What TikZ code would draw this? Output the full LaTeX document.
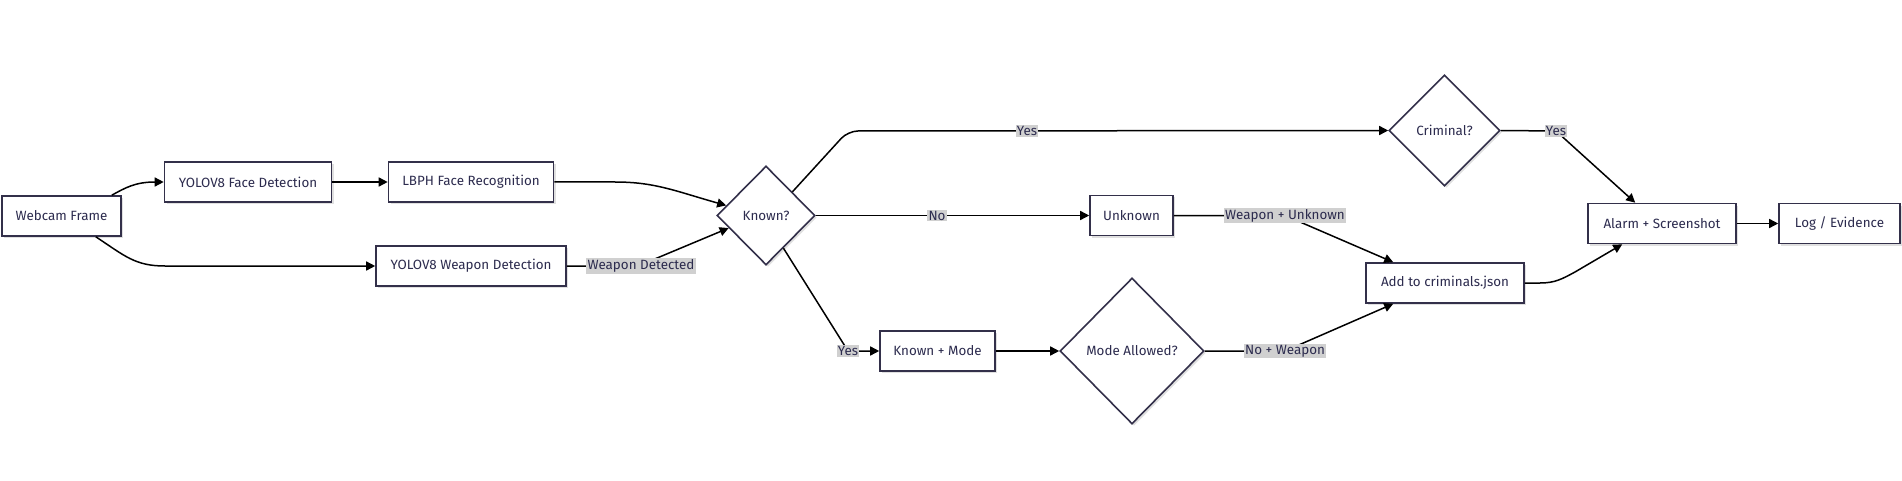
\documentclass[tikz,border=0pt]{standalone}
\usepackage{fontspec}
\setmainfont{Fira Sans}
\usetikzlibrary{shapes.geometric,arrows.meta,calc,shadows}
\definecolor{strokec}{HTML}{33304A}
\definecolor{textc}{HTML}{2C2B4E}
\definecolor{labelbg}{HTML}{D0D0D0}
\tikzset{
  box/.style={draw=strokec, line width=1.6pt, fill=white, text=textc, font=\fontsize{13.4}{15}\selectfont,
    minimum height=40pt, inner sep=0pt,
    drop shadow={shadow xshift=2pt, shadow yshift=-2pt, opacity=0.12, fill=black}},
  dia/.style={shape=diamond, draw=strokec, line width=1.6pt, fill=white, text=textc, font=\fontsize{13.4}{15}\selectfont,
    inner sep=0pt,
    drop shadow={shadow xshift=2pt, shadow yshift=-2pt, opacity=0.12, fill=black}},
  conn/.style={draw=black, line width=1.5pt, -{Triangle[length=9pt,width=9pt]}},
  elabel/.style={fill=labelbg, text=textc, font=\fontsize{13.4}{15}\selectfont, inner sep=1.2pt, anchor=center}
}
\begin{document}
\begin{tikzpicture}[x=1pt,y=-1pt]
\useasboundingbox (0,0) rectangle (1902,481);
% nodes
\node[box, minimum width=119pt] (web) at (61.5,216) {Webcam Frame};
\node[box, minimum width=167pt] (fd) at (248,182) {YOLOV8 Face Detection};
\node[box, minimum width=165pt] (lbph) at (471,182) {LBPH Face Recognition};
\node[box, minimum width=190pt] (wd) at (471,266) {YOLOV8 Weapon Detection};
\node[dia, minimum width=98pt, minimum height=99pt] (known) at (766,215.5) {Known?};
\node[dia, minimum width=111pt, minimum height=111pt] (crim) at (1444.5,130.5) {Criminal?};
\node[box, minimum width=83pt] (unk) at (1131.5,215.5) {Unknown};
\node[box, minimum width=158pt] (add) at (1445,283) {Add to criminals.json};
\node[box, minimum width=148pt] (alarm) at (1662,223.5) {Alarm + Screenshot};
\node[box, minimum width=121pt] (log) at (1839.5,223.5) {Log / Evidence};
\node[box, minimum width=115pt] (km) at (937.5,351) {Known + Mode};
\node[dia, minimum width=144pt, minimum height=146pt] (mode) at (1132,351) {Mode Allowed?};
% connection points
\coordinate (webtop) at ($(web.north east)+(-10,0)$);
\coordinate (webbot) at ($(web.south east)+(-26,0)$);
\coordinate (kul) at ($(known.west)!0.2!(known.north)$);
\coordinate (kll) at ($(known.west)!0.25!(known.south)$);
\coordinate (kur) at ($(known.east)!0.47!(known.north)$);
\coordinate (klr) at ($(known.east)!0.65!(known.south)$);
\coordinate (addtop) at ($(add.north west)+(28,0)$);
\coordinate (addbot) at ($(add.south west)+(28,0)$);
\coordinate (alarmtop) at ($(alarm.north west)+(48,0)$);
\coordinate (alarmbot) at ($(alarm.south west)+(35,0)$);
% connectors
\draw[conn] (webtop) .. controls (125,188) and (135,182) .. (fd.west);
\draw[conn] (webbot) .. controls (125,256) and (135,266) .. (165,266) -- (wd.west);
\draw[conn] (fd.east) -- (lbph.east -| lbph.west);
\draw[conn] (lbph.east) -- (615,182) .. controls (655,182) and (675,191) .. (kul);
\draw[conn, rounded corners=6pt] (wd.east) -- (638,266) -- (kll);
\node[elabel] (lwd) at (641,266) {Weapon Detected};
\draw[conn, rounded corners=10pt] (kur) -- (848,131) -- (crim.west);
\node[elabel] (lyes1) at (1027,131) {Yes};
\draw[conn] (known.east) -- (unk.west);
\node[elabel] (lno) at (937,215.5) {No};
\draw[conn] (klr) -- (848,351) -- (km.west);
\node[elabel] (lyes2) at (848,351) {Yes};
\draw[conn] (km.east) -- (mode.west);
\draw[conn] (mode.east) -- (1285,351) -- (addbot);
\node[elabel] (lnw) at (1285,351) {No + Weapon};
\draw[conn] (unk.east) -- (1285,215.5) -- (addtop);
\node[elabel] (lwu) at (1285,215.5) {Weapon + Unknown};
\draw[conn] (crim.east) -- (1556,131) -- (alarmtop);
\node[elabel] (lyes3) at (1556,131) {Yes};
\draw[conn] (add.east) -- (1540,283) .. controls (1555,283) and (1562,279) .. (1575,272) -- (alarmbot);
\draw[conn] (alarm.east) -- (log.west);
\end{tikzpicture}
\end{document}
